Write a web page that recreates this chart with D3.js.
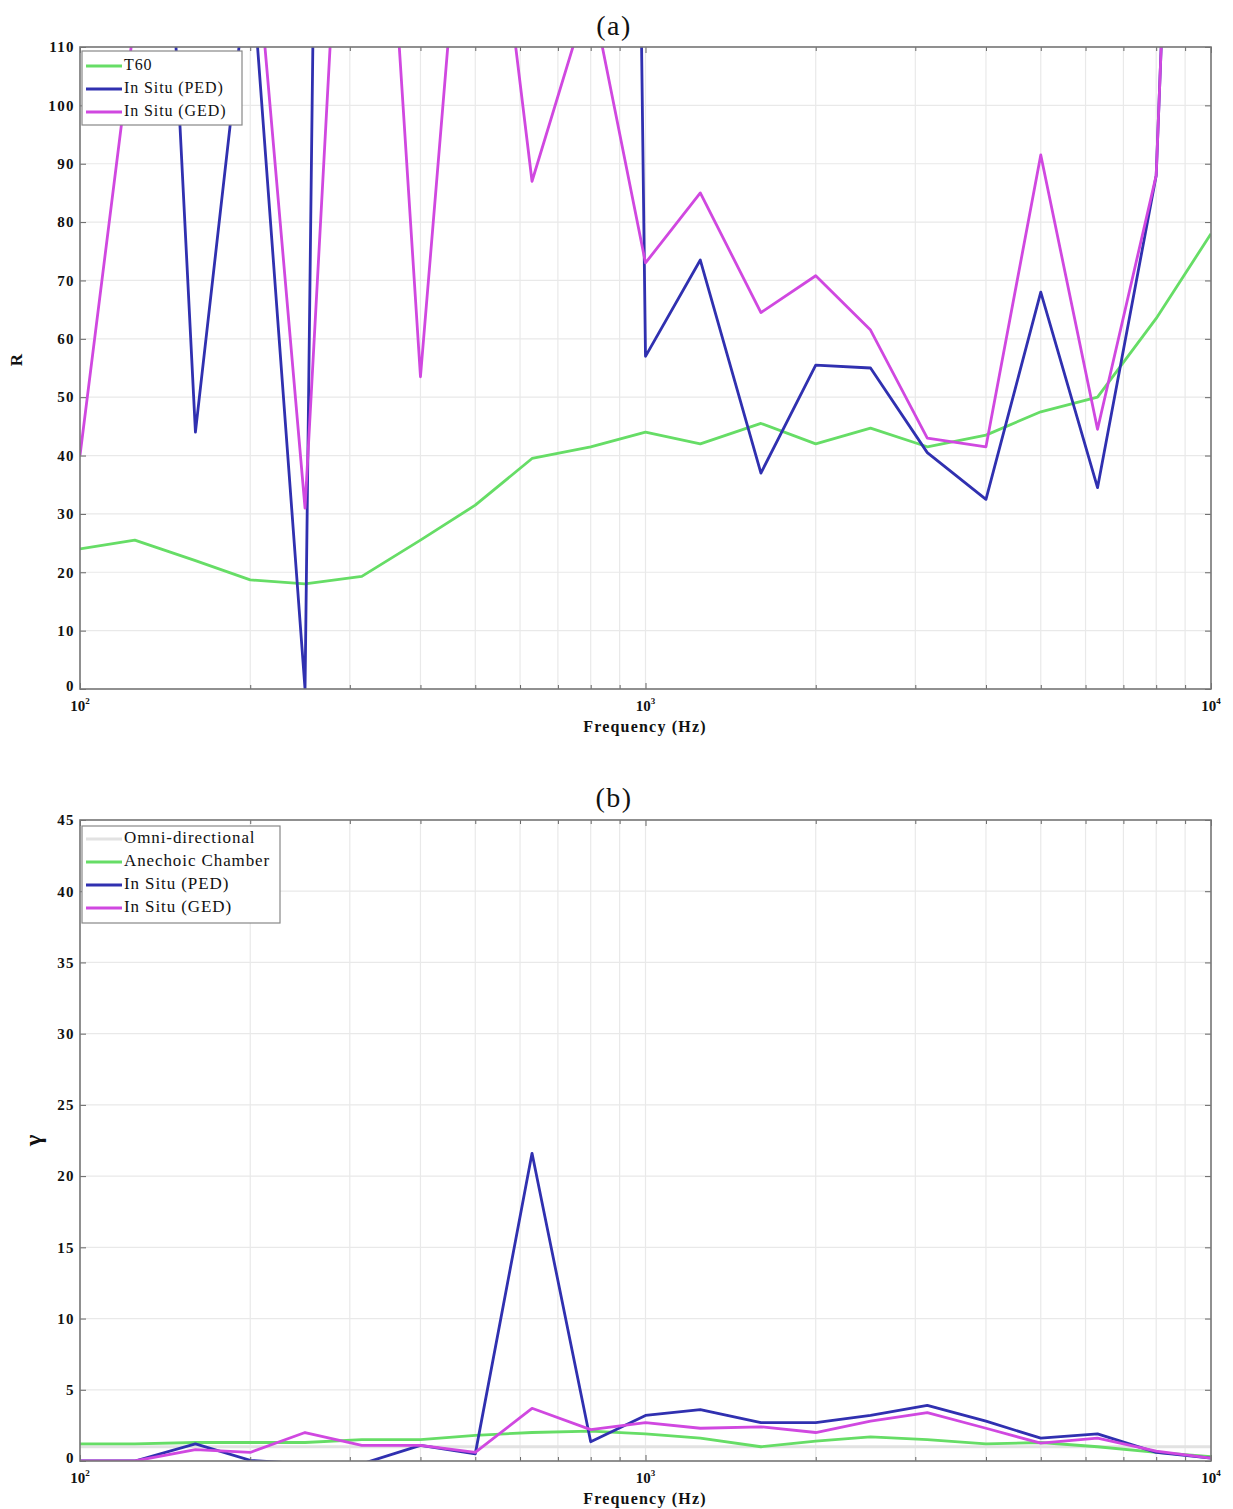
<!DOCTYPE html>
<html><head><meta charset="utf-8">
<script src="https://cdn.jsdelivr.net/npm/d3@7"></script>
<style>
body{margin:0;background:#fff}
svg{display:block}
text{font-family:"Liberation Serif","Times New Roman",serif;fill:#111}
</style>
</head><body>
<svg id="c" width="1233" height="1509"></svg>
<script>
// ---------- data ----------
const freqs = [100,125,160,200,250,315,400,500,630,800,1000,1250,1600,2000,2500,3150,4000,5000,6300,8000,10000];

// panel (a): R
const t60   = [24, 25.5, 22, 18.7, 18, 19.3, 25.5, 31.5, 39.5, 41.5, 44, 42, 45.5, 42, 44.7, 41.5, 43.5, 47.5, 50, 63.5, 78];
const pedA  = [300, 250, 44, 127, 0, 800, 600, 500, 700, 800, 57, 73.5, 37, 55.5, 55, 40.5, 32.5, 68, 34.5, 88, 330];
const gedA  = [40, 115, 120, 139, 31, 210, 53.5, 167, 87, 120, 73, 85, 64.5, 70.8, 61.5, 43, 41.5, 91.5, 44.5, 88, 330];

// panel (b): gamma
const omniB     = [1,1,1,1,1,1,1,1,1,1,1,1,1,1,1,1,1,1,1,1,1];
const anechoicB = [1.2, 1.2, 1.3, 1.3, 1.3, 1.5, 1.5, 1.8, 2.0, 2.1, 1.9, 1.6, 1.0, 1.4, 1.7, 1.5, 1.2, 1.3, 1.0, 0.6, 0.3];
const pedB      = [0, 0, 1.2, 0.05, -0.2, -0.2, 1.1, 0.5, 21.6, 1.35, 3.2, 3.6, 2.7, 2.7, 3.2, 3.9, 2.8, 1.6, 1.9, 0.6, 0.2];
const gedB      = [0, 0, 0.8, 0.6, 2.0, 1.1, 1.1, 0.6, 3.7, 2.2, 2.7, 2.3, 2.4, 2.0, 2.8, 3.4, 2.3, 1.25, 1.6, 0.7, 0.2];

const yTicksA = [0,10,20,30,40,50,60,70,80,90,100,110];
const yTicksB = [0,5,10,15,20,25,30,35,40,45];
const xMajor = [100,1000,10000];
const xMajorExp = ["2","3","4"];

const C_GREEN = "#66dd66", C_BLUE = "#3030b0", C_MAG = "#d048e0", C_OMNI = "#e2e2e2";

const svg = d3.select("#c");

function panel(cfg){
  const {L,R,T,B,ymax,yTicks,series,title,titleY,ylabel,ylabelX,ylabelSize,legend,id} = cfg;
  const x = d3.scaleLog().domain([100,10000]).range([L,R]);
  const y = d3.scaleLinear().domain([0,ymax]).range([B,T]);
  const g = svg.append("g");

  // grid
  const minor = x.ticks().filter(v => !xMajor.includes(v));
  g.append("g").selectAll("line").data(x.ticks()).join("line")
    .attr("x1",d=>x(d)).attr("x2",d=>x(d)).attr("y1",T).attr("y2",B)
    .attr("stroke","#e9e9e9").attr("stroke-width",1.2);
  g.append("g").selectAll("line").data(yTicks).join("line")
    .attr("x1",L).attr("x2",R).attr("y1",d=>y(d)).attr("y2",d=>y(d))
    .attr("stroke","#e9e9e9").attr("stroke-width",1.2);

  // clip
  svg.append("clipPath").attr("id","clip"+id).append("rect")
    .attr("x",L).attr("y",T).attr("width",R-L).attr("height",B-T);

  const line = d3.line().x((d,i)=>x(freqs[i])).y(d=>y(d));
  const lg = g.append("g").attr("clip-path",`url(#clip${id})`);
  series.forEach(s=>{
    lg.append("path").datum(s.values).attr("d",line)
      .attr("fill","none").attr("stroke",s.color).attr("stroke-width",2.8)
      .attr("stroke-linejoin","round");
  });

  // axes (inward ticks)
  const fmtNone = () => "";
  g.append("g").attr("transform",`translate(0,${B})`)
    .call(d3.axisBottom(x).tickValues(xMajor).tickSizeInner(-6).tickSizeOuter(0).tickFormat(fmtNone));
  g.append("g").attr("transform",`translate(0,${B})`)
    .call(d3.axisBottom(x).tickValues(minor).tickSizeInner(-4).tickSizeOuter(0).tickFormat(fmtNone));
  g.append("g").attr("transform",`translate(0,${T})`)
    .call(d3.axisTop(x).tickValues(xMajor).tickSizeInner(-6).tickSizeOuter(0).tickFormat(fmtNone));
  g.append("g").attr("transform",`translate(0,${T})`)
    .call(d3.axisTop(x).tickValues(minor).tickSizeInner(-4).tickSizeOuter(0).tickFormat(fmtNone));
  g.append("g").attr("transform",`translate(${L},0)`)
    .call(d3.axisLeft(y).tickValues(yTicks).tickSizeInner(-6).tickSizeOuter(0).tickPadding(5).tickFormat(d3.format("d")))
    .call(a=>a.selectAll("text").attr("font-size",15).attr("font-weight","bold").attr("letter-spacing","1.4px").attr("fill","#222")
      .attr("dy", d => d === 0 ? "0.1em" : "0.32em"));
  g.append("g").attr("transform",`translate(${R},0)`)
    .call(d3.axisRight(y).tickValues(yTicks).tickSizeInner(-6).tickSizeOuter(0).tickFormat(fmtNone));
  g.selectAll(".domain").remove();
  g.selectAll(".tick line").attr("stroke","#666");

  // frame
  g.append("rect").attr("x",L).attr("y",T).attr("width",R-L).attr("height",B-T)
    .attr("fill","none").attr("stroke","#777").attr("stroke-width",1.6);

  // x tick labels with superscript
  xMajor.forEach((v,i)=>{
    const t = g.append("text").attr("x",x(v)).attr("y",B+22)
      .attr("text-anchor","middle").attr("font-size",15).attr("font-weight","bold").attr("fill","#222");
    t.append("tspan").text("10");
    t.append("tspan").attr("dy",-7).attr("font-size",9).text(xMajorExp[i]);
  });

  // x label
  g.append("text").attr("x",645).attr("y",B+43).attr("text-anchor","middle")
    .attr("font-size",16).attr("font-weight","bold").attr("letter-spacing","1.2px").text("Frequency (Hz)");

  // title
  g.append("text").attr("x",614).attr("y",titleY).attr("text-anchor","middle")
    .attr("font-size",28).attr("letter-spacing","1.5px").text(title);

  // y label
  g.append("text").attr("transform",`translate(${ylabelX},${(T+B)/2+(id==="a"?-8:0)}) rotate(-90)`)
    .attr("text-anchor","middle").attr("dominant-baseline","middle")
    .attr("font-size",ylabelSize).attr("font-weight","bold").text(ylabel);

  // legend
  const lgd = g.append("g");
  lgd.append("rect").attr("x",legend.x).attr("y",legend.y).attr("width",legend.w).attr("height",legend.h)
    .attr("fill","#fff").attr("stroke","#888").attr("stroke-width",1.2);
  series.forEach((s,i)=>{
    const cy = legend.y + legend.first + i*legend.step;
    lgd.append("line").attr("x1",legend.x+4).attr("x2",legend.x+40).attr("y1",cy).attr("y2",cy)
      .attr("stroke",s.color).attr("stroke-width",2.8);
    lgd.append("text").attr("x",legend.x+42).attr("y",cy).attr("dominant-baseline","middle")
      .attr("font-size",legend.fs).attr("letter-spacing","0.9px").attr("fill", s.textColor || "#111").text(s.name);
  });
}

panel({
  id:"a", L:80, R:1211, T:47, B:689, ymax:110, yTicks:yTicksA,
  title:"(a)", titleY:35, ylabel:"R", ylabelX:18, ylabelSize:17,
  series:[
    {name:"T60", values:t60, color:C_GREEN},
    {name:"In Situ (PED)", values:pedA, color:C_BLUE},
    {name:"In Situ (GED)", values:gedA, color:C_MAG}
  ],
  legend:{x:82,y:51,w:160,h:74,first:15,step:23,fs:16}
});

panel({
  id:"b", L:80, R:1211, T:820, B:1461, ymax:45, yTicks:yTicksB,
  title:"(b)", titleY:807, ylabel:"γ", ylabelX:35, ylabelSize:24,
  series:[
    {name:"Omni-directional", values:omniB, color:C_OMNI},
    {name:"Anechoic Chamber", values:anechoicB, color:C_GREEN},
    {name:"In Situ (PED)", values:pedB, color:C_BLUE},
    {name:"In Situ (GED)", values:gedB, color:C_MAG}
  ],
  legend:{x:82,y:826,w:198,h:97,first:13,step:23,fs:17}
});
</script>
</body></html>
